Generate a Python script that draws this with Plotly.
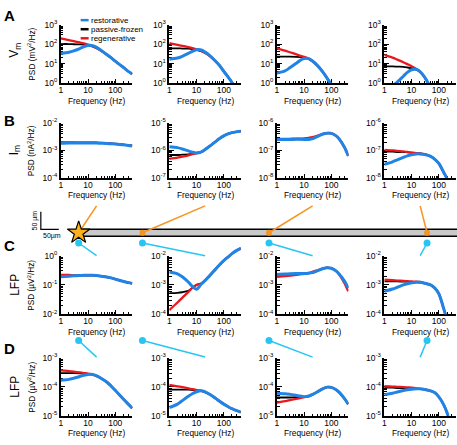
import plotly.graph_objects as go

W, H = 457, 445

FREQ = [1, 2, 3, 5, 7, 10, 15, 20, 30, 50, 70, 100, 150, 200, 300, 420]

# log10 PSD values; RST = restorative, PAS = passive-frozen, REG = regenerative
# row A: Vm (mV^2/Hz)
A1_PAS = [2.0, 2.0, 1.99, 1.98, 1.97, 1.94, 1.87, 1.8, 1.66, 1.45, 1.3, 1.12, 0.93, 0.8, 0.6, 0.46]
A1_REG = [2.29, 2.2, 2.15, 2.08, 2.03, 1.97, 1.88, 1.8, 1.66, 1.45, 1.3, 1.12, 0.93, 0.8, 0.6, 0.46]
A1_RST = [1.52, 1.58, 1.65, 1.77, 1.86, 1.93, 1.92, 1.84, 1.68, 1.45, 1.3, 1.12, 0.93, 0.8, 0.6, 0.46]

A2_PAS = [1.78, 1.78, 1.77, 1.76, 1.74, 1.7, 1.63, 1.55, 1.4, 1.12, 0.9, 0.6, 0.28, 0.03, -0.4, -0.8]
A2_REG = [2.05, 1.96, 1.91, 1.84, 1.79, 1.73, 1.64, 1.55, 1.4, 1.12, 0.9, 0.6, 0.28, 0.03, -0.4, -0.8]
A2_RST = [1.22, 1.28, 1.37, 1.52, 1.63, 1.71, 1.7, 1.6, 1.42, 1.12, 0.9, 0.6, 0.28, 0.03, -0.4, -0.8]

A3_PAS = [1.35, 1.35, 1.35, 1.34, 1.33, 1.3, 1.22, 1.12, 0.92, 0.55, 0.25, -0.1, -0.6, -1.0, -1.6, -2.0]
A3_REG = [1.78, 1.66, 1.58, 1.48, 1.41, 1.34, 1.24, 1.13, 0.92, 0.55, 0.25, -0.1, -0.6, -1.0, -1.6, -2.0]
A3_RST = [0.51, 0.62, 0.78, 1.0, 1.15, 1.26, 1.25, 1.14, 0.92, 0.55, 0.25, -0.1, -0.6, -1.0, -1.6, -2.0]

A4_PAS = [0.85, 0.85, 0.84, 0.83, 0.8, 0.76, 0.68, 0.57, 0.3, -0.25, -0.7, -1.2, -1.8, -2.2, -2.8, -3.2]
A4_REG = [1.44, 1.3, 1.2, 1.07, 0.97, 0.86, 0.72, 0.6, 0.3, -0.25, -0.7, -1.2, -1.8, -2.2, -2.8, -3.2]
A4_RST = [-0.5, -0.15, 0.05, 0.35, 0.55, 0.68, 0.7, 0.6, 0.3, -0.25, -0.7, -1.2, -1.8, -2.2, -2.8, -3.2]

# row B: Im (nA^2/Hz)
B1_PAS = [-2.72, -2.72, -2.72, -2.72, -2.72, -2.72, -2.72, -2.72, -2.73, -2.74, -2.75, -2.76, -2.78, -2.79, -2.81, -2.83]
B1_REG = [-2.7, -2.71, -2.71, -2.72, -2.72, -2.72, -2.72, -2.72, -2.73, -2.74, -2.75, -2.76, -2.78, -2.79, -2.81, -2.83]
B1_RST = [-2.74, -2.73, -2.73, -2.73, -2.73, -2.73, -2.73, -2.73, -2.74, -2.75, -2.76, -2.77, -2.79, -2.8, -2.82, -2.84]

B2_PAS = [-6.17, -6.17, -6.16, -6.15, -6.13, -6.1, -6.06, -5.98, -5.85, -5.68, -5.57, -5.47, -5.39, -5.35, -5.32, -5.3]
B2_REG = [-6.31, -6.27, -6.23, -6.18, -6.14, -6.1, -6.06, -5.98, -5.85, -5.68, -5.57, -5.47, -5.39, -5.35, -5.32, -5.3]
B2_RST = [-5.87, -5.9, -5.95, -6.02, -6.07, -6.1, -6.06, -5.98, -5.85, -5.68, -5.57, -5.47, -5.39, -5.35, -5.32, -5.3]

B3_PAS = [-6.61, -6.61, -6.61, -6.6, -6.6, -6.6, -6.6, -6.58, -6.5, -6.4, -6.37, -6.38, -6.47, -6.6, -6.88, -7.2]
B3_REG = [-6.58, -6.58, -6.58, -6.57, -6.57, -6.56, -6.54, -6.52, -6.47, -6.4, -6.37, -6.38, -6.47, -6.6, -6.88, -7.2]
B3_RST = [-6.6, -6.6, -6.6, -6.59, -6.59, -6.6, -6.6, -6.58, -6.5, -6.4, -6.37, -6.38, -6.47, -6.6, -6.88, -7.2]

B4_PAS = [-7.05, -7.05, -7.06, -7.06, -7.07, -7.08, -7.1, -7.11, -7.14, -7.22, -7.32, -7.48, -7.8, -8.05, -8.6, -9.0]
B4_REG = [-6.98, -7.0, -7.02, -7.04, -7.06, -7.08, -7.1, -7.11, -7.14, -7.22, -7.32, -7.48, -7.8, -8.05, -8.6, -9.0]
B4_RST = [-7.51, -7.42, -7.35, -7.26, -7.2, -7.16, -7.13, -7.13, -7.15, -7.22, -7.32, -7.48, -7.8, -8.05, -8.6, -9.0]

# row C: LFP, electrode close to the cable (uV^2/Hz)
C1_PAS = [-0.7, -0.69, -0.68, -0.68, -0.67, -0.67, -0.67, -0.68, -0.7, -0.73, -0.76, -0.8, -0.85, -0.88, -0.92, -0.95]
C1_REG = [-0.66, -0.66, -0.67, -0.67, -0.67, -0.67, -0.67, -0.68, -0.7, -0.73, -0.76, -0.8, -0.85, -0.88, -0.92, -0.95]
C1_RST = [-0.72, -0.7, -0.69, -0.68, -0.67, -0.67, -0.67, -0.68, -0.7, -0.73, -0.76, -0.8, -0.85, -0.88, -0.92, -0.95]

C2_PAS = [-3.28, -3.27, -3.25, -3.2, -3.1, -3.0, -2.95, -2.86, -2.69, -2.46, -2.31, -2.17, -2.03, -1.93, -1.82, -1.75]
C2_REG = [-3.86, -3.6, -3.44, -3.24, -3.1, -3.0, -2.95, -2.86, -2.69, -2.46, -2.31, -2.17, -2.03, -1.93, -1.82, -1.75]
C2_RST = [-2.56, -2.62, -2.72, -2.9, -3.05, -3.15, -2.97, -2.86, -2.69, -2.46, -2.31, -2.17, -2.03, -1.93, -1.82, -1.75]

C3_PAS = [-2.66, -2.65, -2.64, -2.63, -2.62, -2.61, -2.6, -2.58, -2.52, -2.44, -2.41, -2.43, -2.52, -2.64, -2.86, -3.1]
C3_REG = [-2.72, -2.7, -2.68, -2.66, -2.64, -2.62, -2.59, -2.55, -2.5, -2.44, -2.41, -2.43, -2.53, -2.66, -2.93, -3.22]
C3_RST = [-2.64, -2.63, -2.62, -2.61, -2.61, -2.61, -2.6, -2.58, -2.52, -2.44, -2.41, -2.43, -2.52, -2.64, -2.86, -3.1]

C4_PAS = [-2.88, -2.88, -2.88, -2.89, -2.89, -2.9, -2.9, -2.91, -2.94, -3.0, -3.1, -3.3, -3.8, -4.2, -4.8, -5.2]
C4_REG = [-2.82, -2.84, -2.85, -2.86, -2.87, -2.88, -2.89, -2.9, -2.94, -3.0, -3.1, -3.3, -3.8, -4.2, -4.8, -5.2]
C4_RST = [-3.22, -3.14, -3.08, -3.0, -2.96, -2.93, -2.91, -2.91, -2.94, -3.0, -3.1, -3.3, -3.8, -4.2, -4.8, -5.2]

# row D: LFP, electrode further away (uV^2/Hz)
D1_PAS = [-3.52, -3.52, -3.52, -3.53, -3.54, -3.55, -3.58, -3.62, -3.7, -3.84, -3.97, -4.12, -4.3, -4.43, -4.6, -4.74]
D1_REG = [-3.43, -3.45, -3.47, -3.5, -3.52, -3.54, -3.58, -3.62, -3.7, -3.84, -3.97, -4.12, -4.3, -4.43, -4.6, -4.74]
D1_RST = [-3.77, -3.74, -3.7, -3.64, -3.6, -3.57, -3.57, -3.61, -3.7, -3.84, -3.97, -4.12, -4.3, -4.43, -4.6, -4.74]

D2_PAS = [-4.1, -4.1, -4.1, -4.1, -4.11, -4.12, -4.14, -4.18, -4.26, -4.4, -4.5, -4.6, -4.7, -4.76, -4.83, -4.88]
D2_REG = [-3.93, -3.98, -4.01, -4.05, -4.08, -4.11, -4.14, -4.18, -4.26, -4.4, -4.5, -4.6, -4.7, -4.76, -4.83, -4.88]
D2_RST = [-4.72, -4.6, -4.48, -4.33, -4.24, -4.17, -4.14, -4.17, -4.26, -4.4, -4.5, -4.6, -4.7, -4.76, -4.83, -4.88]

D3_PAS = [-4.37, -4.37, -4.37, -4.36, -4.36, -4.35, -4.32, -4.27, -4.18, -4.06, -4.01, -4.02, -4.1, -4.2, -4.4, -4.6]
D3_REG = [-4.55, -4.5, -4.46, -4.42, -4.39, -4.36, -4.32, -4.27, -4.18, -4.06, -4.01, -4.02, -4.1, -4.2, -4.4, -4.6]
D3_RST = [-4.22, -4.24, -4.26, -4.29, -4.32, -4.34, -4.32, -4.27, -4.18, -4.06, -4.01, -4.02, -4.1, -4.2, -4.4, -4.6]

D4_PAS = [-4.03, -4.03, -4.04, -4.04, -4.05, -4.05, -4.06, -4.07, -4.09, -4.14, -4.2, -4.35, -4.62, -4.9, -5.5, -6.0]
D4_REG = [-3.98, -3.99, -4.0, -4.01, -4.02, -4.03, -4.05, -4.07, -4.09, -4.14, -4.2, -4.35, -4.62, -4.9, -5.5, -6.0]
D4_RST = [-4.27, -4.22, -4.18, -4.13, -4.1, -4.08, -4.07, -4.07, -4.09, -4.14, -4.2, -4.35, -4.62, -4.9, -5.5, -6.0]

PANELS = [
    [(A1_RST, A1_PAS, A1_REG), (A2_RST, A2_PAS, A2_REG), (A3_RST, A3_PAS, A3_REG), (A4_RST, A4_PAS, A4_REG)],
    [(B1_RST, B1_PAS, B1_REG), (B2_RST, B2_PAS, B2_REG), (B3_RST, B3_PAS, B3_REG), (B4_RST, B4_PAS, B4_REG)],
    [(C1_RST, C1_PAS, C1_REG), (C2_RST, C2_PAS, C2_REG), (C3_RST, C3_PAS, C3_REG), (C4_RST, C4_PAS, C4_REG)],
    [(D1_RST, D1_PAS, D1_REG), (D2_RST, D2_PAS, D2_REG), (D3_RST, D3_PAS, D3_REG), (D4_RST, D4_PAS, D4_REG)],
]

# y axis decades shown in each panel
Y_DECADES = [
    [(0, 3), (0, 3), (0, 3), (0, 3)],
    [(-4, -2), (-7, -5), (-8, -6), (-8, -6)],
    [(-2, 0), (-4, -2), (-4, -2), (-4, -2)],
    [(-5, -3), (-5, -3), (-5, -3), (-5, -3)],
]

SERIES_NAMES = ["restorative", "passive-frozen", "regenerative"]
ROW_LABELS = ["V<sub>m</sub>", "I<sub>m</sub>", "LFP", "LFP"]
PSD_TITLES = ["PSD (mV<sup>2</sup>/Hz)", "PSD (nA<sup>2</sup>/Hz)",
              "PSD (µV<sup>2</sup>/Hz)", "PSD (µV<sup>2</sup>/Hz)"]
PANEL_LETTERS = ["A", "B", "C", "D"]
X_TITLE = "Frequency (Hz)"

# schematic: recording sites along the cable (um from soma)
ELECTRODE_X_UM = [0, 178, 531, 972]
SCALE_BAR_UM = 50

BLUE = "#1f84e6"
RED = "#e8191e"
BLACK = "#000000"
ORANGE = "#f7931e"
CYAN = "#27c6f2"
FONT = "Liberation Sans, Arial, Helvetica, sans-serif"

# layout in pixels
COL_X = [59, 168, 276, 384]
COL_W = 72
ROW_Y = [(19, 79), (120, 176), (256, 316), (361, 420)]
X_MAX_LOG = 2.63
EXT = 14  # lines may run above the top of a panel


def fx(x):
    return x / W


def fy(y):
    return 1 - y / H


def ax_name(kind, n):
    return kind + ("" if n == 1 else str(n))


def label(x, y, text, size, angle=0, xanchor="center", bold=False):
    return dict(x=fx(x), y=fy(y), xref="paper", yref="paper", xanchor=xanchor, yanchor="middle",
                text=f"<b>{text}</b>" if bold else text, textangle=angle, showarrow=False,
                borderpad=0, font=dict(size=size, color="black", family=FONT))


fig = go.Figure()
layout = {}
annotations = []

x_minor = [m * 10 ** k for k in range(0, 3) for m in range(2, 10) if m * 10 ** k <= 10 ** X_MAX_LOG]

for r in range(4):
    for c in range(4):
        n = r * 4 + c + 1
        nd = n + 16
        lo, hi = Y_DECADES[r][c]
        top, bot = ROW_Y[r]
        xdom = [fx(COL_X[c]), fx(COL_X[c] + COL_W)]
        ydom = [fy(bot), fy(top)]
        y_minor = [m * 10 ** k for k in range(lo, hi) for m in range(2, 10)]

        layout[ax_name("xaxis", n)] = dict(
            type="log", range=[0, X_MAX_LOG], domain=xdom, anchor=ax_name("y", n),
            showline=True, linecolor="black", linewidth=1.5, mirror=False,
            showgrid=False, zeroline=False,
            ticks="inside", ticklen=4, tickwidth=1, tickcolor="black",
            tickvals=[1, 10, 100], ticktext=["1", "10", "100"], ticklabelstandoff=-2,
            tickfont=dict(size=8.5, color="black", family=FONT),
            minor=dict(tickmode="array", tickvals=x_minor, ticks="inside",
                       ticklen=2, tickwidth=1, tickcolor="black", showgrid=False),
        )
        layout[ax_name("yaxis", n)] = dict(
            type="log", range=[lo, hi], domain=ydom, anchor=ax_name("x", n),
            showline=True, linecolor="black", linewidth=1.5,
            showgrid=False, zeroline=False,
            ticks="inside", ticklen=5, tickwidth=1, tickcolor="black",
            tickvals=[10 ** k for k in range(lo, hi + 1)],
            ticktext=[f"10<sup>{k}</sup>" for k in range(lo, hi + 1)],
            tickfont=dict(size=8.5, color="black", family=FONT),
            minor=dict(tickmode="array", tickvals=y_minor, ticks="inside",
                       ticklen=3, tickwidth=1, tickcolor="black", showgrid=False),
        )
        fig.add_trace(go.Scatter(x=[], y=[], xaxis=ax_name("x", n), yaxis=ax_name("y", n),
                                 showlegend=False, hoverinfo="skip"))

        annotations.append(label(COL_X[c] + COL_W / 2, bot + 18, X_TITLE, 8.3))
        if c == 0:
            annotations.append(label(29, (top + bot) / 2, PSD_TITLES[r], 8.3, angle=-90))

        # data axes: same scale, taller at the top so curves are not clipped there
        px_per_dec = (bot - top) / (hi - lo)
        layout[ax_name("xaxis", nd)] = dict(type="log", range=[0, X_MAX_LOG], domain=xdom,
                                            anchor=ax_name("y", nd), visible=False)
        layout[ax_name("yaxis", nd)] = dict(type="log", range=[lo, hi + EXT / px_per_dec],
                                            domain=[fy(bot), fy(top - EXT)],
                                            anchor=ax_name("x", nd), visible=False)

        rst, pas, reg = PANELS[r][c]
        for vals, color, width in ((pas, BLACK, 1.8), (reg, RED, 2.3), (rst, BLUE, 3.0)):
            fig.add_trace(go.Scatter(
                x=FREQ, y=[10 ** v for v in vals], mode="lines",
                line=dict(color=color, width=width, shape="spline", smoothing=0.8),
                xaxis=ax_name("x", nd), yaxis=ax_name("y", nd),
                showlegend=False, hoverinfo="skip",
            ))

# schematic overlay, in micrometres
UM_PER_PX = SCALE_BAR_UM / 18.0
SOMA_PX = (77, 232.5)


def um_x(x):
    return (x - SOMA_PX[0]) * UM_PER_PX


def um_y(y):
    return (SOMA_PX[1] - y) * UM_PER_PX


NS = 33
layout[ax_name("xaxis", NS)] = dict(range=[um_x(0), um_x(W)], domain=[0, 1],
                                    anchor=ax_name("y", NS), visible=False)
layout[ax_name("yaxis", NS)] = dict(range=[um_y(H), um_y(0)], domain=[0, 1],
                                    anchor=ax_name("x", NS), visible=False)
sx, sy = ax_name("x", NS), ax_name("y", NS)

CABLE_LEN_UM = 1200
CABLE_DIAM_UM = 20
fig.add_trace(go.Scatter(
    x=[0, CABLE_LEN_UM, CABLE_LEN_UM, 0, 0],
    y=[-CABLE_DIAM_UM / 2, -CABLE_DIAM_UM / 2, CABLE_DIAM_UM / 2, CABLE_DIAM_UM / 2, -CABLE_DIAM_UM / 2],
    mode="lines", fill="toself", fillcolor="#c9c9c9", line=dict(color="black", width=1.6),
    xaxis=sx, yaxis=sy, showlegend=False, hoverinfo="skip"))

centers = [um_x(cx + COL_W / 2) for cx in COL_X]
probe_c_y = um_y(243)
probe_d_y = um_y(343)
for i, ex in enumerate(ELECTRODE_X_UM):
    fig.add_trace(go.Scatter(x=[ex, centers[i]], y=[0, um_y(205)], mode="lines",
                             line=dict(color=ORANGE, width=1.5), xaxis=sx, yaxis=sy,
                             showlegend=False, hoverinfo="skip"))
    fig.add_trace(go.Scatter(x=[ex, centers[i]], y=[probe_c_y, um_y(256)], mode="lines",
                             line=dict(color=CYAN, width=1.5), xaxis=sx, yaxis=sy,
                             showlegend=False, hoverinfo="skip"))
    fig.add_trace(go.Scatter(x=[ex, centers[i]], y=[probe_d_y, um_y(360)], mode="lines",
                             line=dict(color=CYAN, width=1.5), xaxis=sx, yaxis=sy,
                             showlegend=False, hoverinfo="skip"))

fig.add_trace(go.Scatter(x=ELECTRODE_X_UM + ELECTRODE_X_UM,
                         y=[probe_c_y] * 4 + [probe_d_y] * 4, mode="markers",
                         marker=dict(color=CYAN, size=7), xaxis=sx, yaxis=sy,
                         showlegend=False, hoverinfo="skip"))
fig.add_trace(go.Scatter(x=ELECTRODE_X_UM[1:], y=[0] * 3, mode="markers",
                         marker=dict(color=ORANGE, size=6), xaxis=sx, yaxis=sy,
                         showlegend=False, hoverinfo="skip"))
fig.add_trace(go.Scatter(x=[ELECTRODE_X_UM[0]], y=[0], mode="markers",
                         marker=dict(symbol="star", color="#fbb21a", size=17,
                                     line=dict(color="black", width=1.2)),
                         xaxis=sx, yaxis=sy, showlegend=False, hoverinfo="skip"))

# scale bar
sb_x, sb_y = um_x(39), um_y(229)
fig.add_trace(go.Scatter(x=[sb_x, sb_x, sb_x + SCALE_BAR_UM],
                         y=[sb_y + SCALE_BAR_UM, sb_y, sb_y], mode="lines",
                         line=dict(color="black", width=1.2), xaxis=sx, yaxis=sy,
                         showlegend=False, hoverinfo="skip"))

annotations += [
    dict(x=sb_x - 6 * UM_PER_PX, y=sb_y + SCALE_BAR_UM / 2, xref=sx, yref=sy,
         xanchor="center", yanchor="middle",
         text=f"{SCALE_BAR_UM} µm", textangle=-90, showarrow=False,
         font=dict(size=7, color="black", family=FONT)),
    dict(x=sb_x + SCALE_BAR_UM / 2 + 2 * UM_PER_PX, y=sb_y - 6.5 * UM_PER_PX, xref=sx, yref=sy,
         xanchor="center", yanchor="middle",
         text=f"{SCALE_BAR_UM}µm", showarrow=False,
         font=dict(size=7, color="black", family=FONT)),
]

letter_y = [10, 117, 246, 351]
for r in range(4):
    top, bot = ROW_Y[r]
    annotations.append(label(8, letter_y[r], PANEL_LETTERS[r], 15, bold=True))
    annotations.append(label(13, (top + bot) / 2 - (4 if r == 0 else 0), ROW_LABELS[r], 12, angle=-90))

# legend drawn inside panel A1
shapes = []
for i, (name, color) in enumerate(zip(SERIES_NAMES, [BLUE, BLACK, RED])):
    ly = 14.5 + i * 9.3
    shapes.append(dict(type="line", xref="paper", yref="paper",
                       x0=fx(79), x1=fx(87), y0=fy(ly), y1=fy(ly),
                       line=dict(color=color, width=2.5)))
    annotations.append(label(88, ly, name, 8, xanchor="left"))

fig.update_layout(
    width=W, height=H,
    margin=dict(l=0, r=0, t=0, b=0),
    paper_bgcolor="white", plot_bgcolor="rgba(0,0,0,0)",
    font=dict(family=FONT, color="black"),
    showlegend=False,
    annotations=annotations,
    shapes=shapes,
    **layout,
)

# the page's default body margin would push the 457x445 figure out of the window
fig.write_html("out.html", config={"displayModeBar": False},
               post_script="document.body.style.margin='0';")
